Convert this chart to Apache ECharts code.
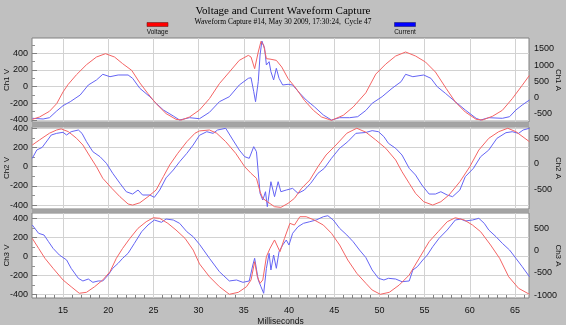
<!DOCTYPE html>
<html>
<head>
<meta charset="utf-8">
<script src="https://cdn.jsdelivr.net/npm/echarts@6/dist/echarts.min.js"></script>
<style>
  html, body { margin: 0; padding: 0; background: #c0c0c0; }
  #chart { width: 566px; height: 325px; }
</style>
</head>
<body>
<div id="chart"></div>
<script>
// Waveform samples as [milliseconds, value]
const ch1Volts = [[11.6,-392],[12.4,-364],[13.5,-296],[14.3,-204],[15.0,-64],[15.55,24],[16.5,144],[17.6,263],[18.7,355],[19.7,395],[20.7,355],[21.6,275],[22.6,195],[23.5,45],[24.4,-84],[25.3,-204],[26.4,-323],[27.5,-392],[28.1,-400],[29.0,-364],[30.1,-280],[31.2,-144],[32.3,36],[33.4,175],[34.5,315],[35.5,375],[35.8,355],[36.2,215],[36.6,415],[36.9,542],[37.2,495],[37.5,335],[37.9,330],[38.6,315],[39.2,235],[39.9,96],[40.8,-24],[41.7,-164],[42.7,-284],[43.6,-364],[44.7,-404],[46.0,-344],[47.1,-244],[48.5,-74],[49.6,150],[50.7,270],[51.8,367],[52.9,415],[54.0,367],[55.1,295],[56.2,175],[57.4,-24],[58.4,-184],[59.5,-304],[60.7,-392],[61.4,-400],[62.5,-356],[63.6,-284],[64.7,-144],[65.8,16],[66.6,135]];
const ch1Amps = [[11.6,-643],[12.8,-664],[13.5,-624],[14.3,-417],[15.0,-253],[15.8,-130],[16.9,77],[17.8,386],[18.7,541],[19.4,717],[20.2,643],[21.1,696],[22.2,696],[22.7,593],[23.5,284],[24.6,25],[25.3,-179],[26.1,-386],[27.2,-572],[27.9,-696],[29.0,-624],[30.1,-655],[31.2,-458],[32.3,-130],[33.4,25],[34.5,386],[35.5,593],[35.8,612],[36.1,180],[36.3,-130],[36.6,489],[36.8,1314],[37.0,1746],[37.3,1521],[37.5,1005],[37.8,1107],[38.0,798],[38.3,541],[38.6,903],[38.9,593],[39.3,386],[39.9,408],[40.4,386],[41.2,130],[41.9,-77],[42.8,-284],[43.8,-541],[44.7,-696],[45.6,-624],[46.7,-624],[47.6,-593],[48.5,-400],[49.2,-179],[50.3,25],[51.4,284],[52.4,489],[52.9,717],[53.7,643],[54.9,696],[55.7,593],[56.4,334],[57.3,130],[58.4,-130],[59.5,-386],[60.7,-643],[61.2,-696],[62.1,-624],[63.6,-643],[64.4,-593],[65.1,-386],[65.8,-232],[66.6,-77]];
const ch2Volts = [[11.6,226],[12.4,279],[13.5,349],[14.3,383],[14.8,394],[15.6,365],[16.5,296],[17.2,226],[18.0,104],[18.7,0],[19.4,-121],[20.4,-225],[21.3,-313],[22.2,-389],[22.7,-400],[23.5,-376],[24.4,-313],[25.3,-243],[26.1,-104],[26.8,18],[27.7,140],[28.7,261],[29.6,349],[30.1,373],[31.2,383],[32.0,349],[33.0,261],[34.1,140],[35.1,0],[35.8,-69],[36.4,-121],[36.8,-261],[37.1,-330],[37.6,-365],[38.4,-417],[39.1,-424],[39.9,-382],[40.6,-330],[41.4,-225],[42.3,-139],[43.2,0],[44.1,122],[45.2,226],[46.4,349],[47.5,401],[48.5,360],[49.6,279],[50.7,192],[51.8,70],[52.5,-52],[53.3,-173],[54.0,-278],[54.9,-365],[55.9,-400],[56.8,-365],[57.7,-295],[58.9,-157],[60.0,0],[61.0,174],[62.1,296],[63.2,365],[64.2,401],[65.1,365],[66.6,261]];
const ch2Amps = [[11.6,105],[12.1,269],[12.7,322],[13.3,466],[13.7,565],[14.3,598],[15.0,618],[15.4,565],[15.9,630],[16.7,664],[17.1,598],[17.6,433],[18.3,236],[19.1,137],[19.8,7],[20.5,-190],[21.3,-388],[22.0,-553],[22.7,-599],[23.3,-520],[23.8,-618],[24.6,-618],[25.1,-664],[25.7,-520],[26.4,-280],[27.2,-125],[27.9,38],[28.7,204],[29.4,368],[30.1,560],[30.9,630],[31.6,598],[32.1,664],[33.0,697],[33.8,466],[34.5,269],[35.1,137],[35.6,105],[36.1,335],[36.4,236],[36.8,-585],[37.1,-717],[37.4,-553],[37.6,-849],[38.0,-356],[38.4,-651],[38.8,-356],[39.1,-553],[39.7,-520],[40.4,-487],[41.0,-585],[41.7,-520],[42.4,-388],[43.2,-190],[43.9,-92],[44.7,105],[45.6,303],[46.5,433],[47.4,598],[48.5,615],[49.2,651],[49.9,630],[50.5,532],[51.0,401],[51.8,303],[52.5,171],[53.3,-92],[54.0,-224],[54.7,-421],[55.5,-599],[56.2,-599],[56.8,-553],[57.5,-618],[58.1,-651],[58.9,-520],[59.5,-257],[60.4,-92],[61.2,137],[62.1,269],[63.0,499],[64.0,611],[64.7,630],[65.4,598],[65.9,664],[66.6,697]];
const ch3Volts = [[11.6,189],[12.3,84],[13.0,-21],[13.9,-126],[15.0,-249],[15.9,-320],[16.8,-389],[17.6,-379],[18.5,-320],[19.4,-249],[20.2,-162],[20.9,-21],[21.6,84],[22.4,189],[23.3,295],[24.2,364],[25.0,406],[25.7,400],[26.6,347],[27.5,277],[28.5,189],[29.4,66],[30.1,-80],[31.2,-215],[32.3,-320],[33.4,-400],[34.4,-379],[35.3,-320],[35.8,-249],[36.2,-57],[36.5,-215],[36.8,-284],[37.1,-249],[37.5,-4],[37.9,84],[38.4,172],[39.0,48],[39.5,189],[40.1,347],[40.6,329],[41.2,417],[41.9,417],[42.8,382],[43.8,329],[44.7,242],[45.6,119],[46.5,-39],[47.5,-179],[48.5,-284],[49.2,-355],[50.1,-400],[51.1,-379],[52.2,-302],[53.3,-197],[54.4,-21],[55.5,154],[56.5,259],[57.5,364],[58.4,406],[59.4,382],[60.3,329],[61.2,259],[62.3,119],[63.3,-21],[64.3,-215],[65.4,-337],[66.6,-400]];
const ch3Amps = [[11.6,573],[12.3,387],[12.9,349],[13.4,199],[13.9,51],[14.6,-99],[15.4,-210],[15.9,-396],[16.7,-620],[17.2,-680],[17.8,-636],[18.3,-710],[18.9,-680],[19.4,-680],[20.0,-546],[20.5,-396],[21.1,-284],[21.6,-172],[22.2,-60],[22.9,163],[23.7,423],[24.4,573],[25.1,685],[25.9,634],[26.4,707],[27.2,685],[27.9,611],[28.7,423],[29.4,311],[30.1,140],[31.2,-172],[32.3,-472],[33.4,-680],[34.2,-658],[34.9,-710],[35.6,-680],[36.0,-322],[36.2,-172],[36.6,-658],[36.9,-808],[37.2,-956],[37.5,-396],[37.8,-60],[38.0,-434],[38.3,-99],[38.6,-396],[38.9,-25],[39.3,125],[39.7,237],[40.0,125],[40.4,387],[41.0,535],[41.6,611],[42.3,647],[43.0,685],[43.8,759],[44.3,781],[44.9,685],[45.6,499],[46.4,349],[47.1,199],[47.8,13],[48.5,-155],[49.2,-434],[49.9,-620],[50.5,-658],[51.0,-620],[51.8,-636],[52.5,-696],[53.3,-680],[53.7,-434],[54.2,-360],[54.8,-210],[55.3,-99],[55.9,87],[56.6,275],[57.5,461],[58.4,685],[59.0,707],[59.5,663],[60.3,685],[61.0,723],[61.6,611],[62.1,461],[62.9,311],[63.6,163],[64.4,13],[65.1,-172],[65.8,-360],[66.6,-584]];

// Axis ticks
const timeTicks = [15, 20, 25, 30, 35, 40, 45, 50, 55, 60, 65];
const timeMinorTicks = [12,13,14,16,17,18,19,21,22,23,24,26,27,28,29,31,32,33,34,36,37,38,39,41,42,43,44,46,47,48,49,51,52,53,54,56,57,58,59,61,62,63,64,66];
const voltTicks = [-400, -200, 0, 200, 400];
const voltMinorTicks1 = [-300, -100, 100, 300, 500];
const voltMinorTicks23 = [-300, -100, 100, 300];
const ch1AmpTicks = [-500, 0, 500, 1000, 1500];
const ch2AmpTicks = [-500, 0, 500];
const ch3AmpTicks = [-1000, -500, 0, 500];

const panels = [
  { top: 38,  height: 84, vName: 'Ch1 V', aName: 'Ch1 A', vRange: [-424, 583], aRange: [-757, 1839], aTicks: ch1AmpTicks, vMinor: voltMinorTicks1, volts: ch1Volts, amps: ch1Amps },
  { top: 127, height: 82, vName: 'Ch2 V', aName: 'Ch2 A', vRange: [-441, 414], aRange: [-894, 723],  aTicks: ch2AmpTicks, vMinor: voltMinorTicks23, volts: ch2Volts, amps: ch2Amps },
  { top: 213, height: 85, vName: 'Ch3 V', aName: 'Ch3 A', vRange: [-439, 456], aRange: [-1061, 842], aTicks: ch3AmpTicks, vMinor: voltMinorTicks23, volts: ch3Volts, amps: ch3Amps }
];

const X_MIN = 11.57, X_MAX = 66.55;
const PLOT_LEFT = 32, PLOT_WIDTH = 497;
const SANS = 'Liberation Sans, Arial, sans-serif';
const labelFont = { fontFamily: SANS, fontSize: 9, color: '#111' };
const nameFont = { fontFamily: SANS, fontSize: 8, color: '#111' };
const plainNumber = v => String(v);
const gridLine = { show: true, lineStyle: { color: '#d2d2d2', width: 1 } };
const VOLT_COLOR = '#f46464';
const AMP_COLOR = '#6464f4';

const grid = [], xAxis = [], yAxis = [], series = [];

panels.forEach((p, i) => {
  grid.push({
    left: PLOT_LEFT, top: p.top, width: PLOT_WIDTH, height: p.height,
    containLabel: false, outerBoundsMode: 'none',
    show: true, backgroundColor: '#ffffff', borderColor: '#808080', borderWidth: 1
  });
  const last = i === panels.length - 1;
  xAxis.push({
    type: 'value', gridIndex: i, min: X_MIN, max: X_MAX, position: 'bottom',
    axisLine: { show: false, onZero: false },
    axisTick: { show: false, customValues: timeTicks },
    splitLine: gridLine,
    axisLabel: { show: last, customValues: timeTicks, margin: 8, formatter: plainNumber, ...labelFont },
    name: last ? 'Milliseconds' : '', nameLocation: 'middle', nameGap: 19, nameMoveOverlap: false,
    nameTextStyle: { ...nameFont, fontSize: 8.5 }
  });
  if (last) {
    xAxis.push({
      type: 'value', gridIndex: i, min: X_MIN, max: X_MAX, position: 'bottom',
      axisLine: { show: false, onZero: false }, axisLabel: { show: false }, splitLine: { show: false },
      axisTick: { show: true, inside: true, length: 3, customValues: timeMinorTicks, lineStyle: { color: '#808080' } }
    });
  }
  const vIdx = yAxis.length;
  yAxis.push({
    type: 'value', gridIndex: i, position: 'left', min: p.vRange[0], max: p.vRange[1],
    axisLine: { show: false, onZero: false },
    axisTick: { show: true, inside: true, length: 5, customValues: voltTicks, lineStyle: { color: '#808080' } },
    splitLine: gridLine,
    axisLabel: { customValues: voltTicks, margin: 4, formatter: plainNumber, ...labelFont },
    name: p.vName, nameLocation: 'middle', nameGap: 21, nameRotate: 90, nameMoveOverlap: false,
    nameTextStyle: nameFont
  });
  const aIdx = yAxis.length;
  yAxis.push({
    type: 'value', gridIndex: i, position: 'right', min: p.aRange[0], max: p.aRange[1],
    axisLine: { show: false, onZero: false },
    axisTick: { show: false, customValues: p.aTicks },
    splitLine: { show: false },
    axisLabel: { customValues: p.aTicks, margin: 5, formatter: plainNumber, ...labelFont },
    name: p.aName, nameLocation: 'middle', nameGap: 25, nameRotate: -90, nameMoveOverlap: false,
    nameTextStyle: nameFont
  });
  yAxis.push({
    type: 'value', gridIndex: i, position: 'left', min: p.vRange[0], max: p.vRange[1],
    axisLine: { show: false, onZero: false }, axisLabel: { show: false }, splitLine: { show: false },
    axisTick: { show: true, inside: true, length: 3, customValues: p.vMinor, lineStyle: { color: '#909090' } }
  });
  series.push({
    name: 'Current', type: 'line', xAxisIndex: i, yAxisIndex: aIdx, data: p.amps,
    showSymbol: false, symbol: 'none', lineStyle: { color: AMP_COLOR, width: 1 }, itemStyle: { color: AMP_COLOR },
    silent: true, z: 2
  });
  series.push({
    name: 'Voltage', type: 'line', xAxisIndex: i, yAxisIndex: vIdx, data: p.volts,
    showSymbol: false, symbol: 'none', lineStyle: { color: VOLT_COLOR, width: 1 }, itemStyle: { color: VOLT_COLOR },
    silent: true, z: 3
  });
});

// Separator bars between panels and the two-item legend
const graphic = [
  { type: 'rect', shape: { x: PLOT_LEFT, y: 122.5, width: PLOT_WIDTH, height: 4 }, style: { fill: '#a4a4a4' }, z: 10 },
  { type: 'rect', shape: { x: PLOT_LEFT, y: 209.5, width: PLOT_WIDTH, height: 3 }, style: { fill: '#a4a4a4' }, z: 10 },
  { type: 'rect', shape: { x: 147, y: 22.5, width: 21, height: 4 }, style: { fill: '#ff0000', stroke: '#6a2020', lineWidth: 0.6 } },
  { type: 'text', x: 157.5, y: 32, style: { text: 'Voltage', fill: '#111', font: '6.5px ' + SANS, textAlign: 'center', textVerticalAlign: 'middle' } },
  { type: 'rect', shape: { x: 394.5, y: 22.5, width: 21, height: 4 }, style: { fill: '#0000ff', stroke: '#20206a', lineWidth: 0.6 } },
  { type: 'text', x: 405, y: 32, style: { text: 'Current', fill: '#111', font: '6.5px ' + SANS, textAlign: 'center', textVerticalAlign: 'middle' } }
];

const chart = echarts.init(document.getElementById('chart'), null, { renderer: 'canvas' });
chart.setOption({
  animation: false,
  backgroundColor: '#c0c0c0',
  title: [
    { text: 'Voltage and Current Waveform Capture', left: 'center', top: 1,
      textStyle: { fontFamily: 'Liberation Serif, Times New Roman, serif', fontSize: 11, fontWeight: 'normal', color: '#000' } },
    { text: 'Waveform Capture #14, May 30 2009, 17:30:24,  Cycle 47', left: 'center', top: 13,
      textStyle: { fontFamily: 'Liberation Serif, Times New Roman, serif', fontSize: 7.5, fontWeight: 'normal', color: '#000' } }
  ],
  grid, xAxis, yAxis, series, graphic
});
</script>
</body>
</html>
